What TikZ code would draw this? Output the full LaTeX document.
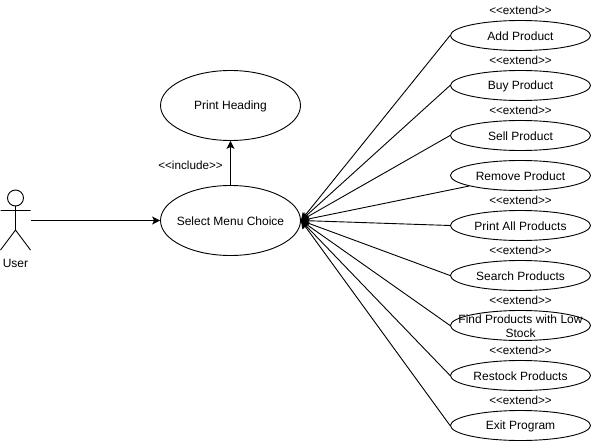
\documentclass[tikz,border=0pt]{standalone}
\usepackage{fontspec}
\setmainfont{Liberation Sans}
\usetikzlibrary{arrows.meta,shapes.geometric}
\tikzset{
  usecase/.style={draw=black,ellipse,line width=0.9pt,inner sep=0pt},
  bigcase/.style={usecase,minimum width=140pt,minimum height=70pt},
  smallcase/.style={usecase,minimum width=140pt,minimum height=30pt},
  casetext/.style={inner sep=0pt,align=center,yshift=-0.5pt,font=\fontsize{12}{13.5}\selectfont},
  tag/.style={inner sep=0pt,font=\fontsize{11.7}{13}\selectfont},
  conn/.style={draw=black,line width=0.9pt,-{Stealth[length=8pt,width=8pt,inset=2pt]}},
  actorline/.style={draw=black,line width=0.9pt}
}
\begin{document}
\begin{tikzpicture}[x=1pt,y=-1pt]
\useasboundingbox (0,0) rectangle (591,441);
% actor
\draw[actorline] (15.5,198) circle (8);
\draw[actorline] (15.5,206) -- (15.5,230) (0.5,210.5) -- (30.5,210.5) (0.5,250) -- (15.5,230) -- (30.5,250);
\coordinate (actor) at (30.5,220.5);
\node[inner sep=0pt,font=\fontsize{12}{14}\selectfont] (userlabel) at (15.5,263.5) {User};
% left use cases
\node[bigcase,label={[casetext]center:Select Menu Choice}] (sel) at (230.5,220.5) {};
\node[bigcase,label={[casetext]center:Print Heading}] (head) at (230.5,105.5) {};
% right use cases
\node[smallcase,label={[casetext]center:Add Product}] (add) at (520.5,35.5) {};
\node[smallcase,label={[casetext]center:Buy Product}] (buy) at (520.5,85.5) {};
\node[smallcase,label={[casetext]center:Sell Product}] (sell) at (520.5,135.5) {};
\node[smallcase,label={[casetext]center:Remove Product}] (rem) at (520.5,175.5) {};
\node[smallcase,label={[casetext]center:Print All Products}] (all) at (520.5,225.5) {};
\node[smallcase,label={[casetext]center:Search Products}] (search) at (520.5,275.5) {};
\node[smallcase,label={[casetext]center:{Find Products with Low\\Stock}}] (low) at (520.5,325.5) {};
\node[smallcase,label={[casetext]center:Restock Products}] (restock) at (520.5,375.5) {};
\node[smallcase,label={[casetext]center:Exit Program}] (exit) at (520.5,425.5) {};
% labels
\node[tag] (inc) at (190.5,165.5) {<{}<include>{}>};
\node[tag] (e1) at (520.5,10.5) {<{}<extend>{}>};
\node[tag] (e2) at (520.5,60.5) {<{}<extend>{}>};
\node[tag] (e3) at (520.5,110.5) {<{}<extend>{}>};
\node[tag] (e5) at (520.5,200.5) {<{}<extend>{}>};
\node[tag] (e6) at (520.5,250.5) {<{}<extend>{}>};
\node[tag] (e7) at (520.5,300.5) {<{}<extend>{}>};
\node[tag] (e8) at (520.5,350.5) {<{}<extend>{}>};
\node[tag] (e9) at (520.5,400.5) {<{}<extend>{}>};
% connectors
\draw[conn] (actor) -- (sel.west);
\draw[conn] (sel.north) -- (head.south);
\foreach \n in {add,buy,sell,all,search,low,restock,exit}
  \draw[conn] (\n.west) -- (sel.east);
\draw[conn] (rem) -- (sel.east);
\end{tikzpicture}
\end{document}
